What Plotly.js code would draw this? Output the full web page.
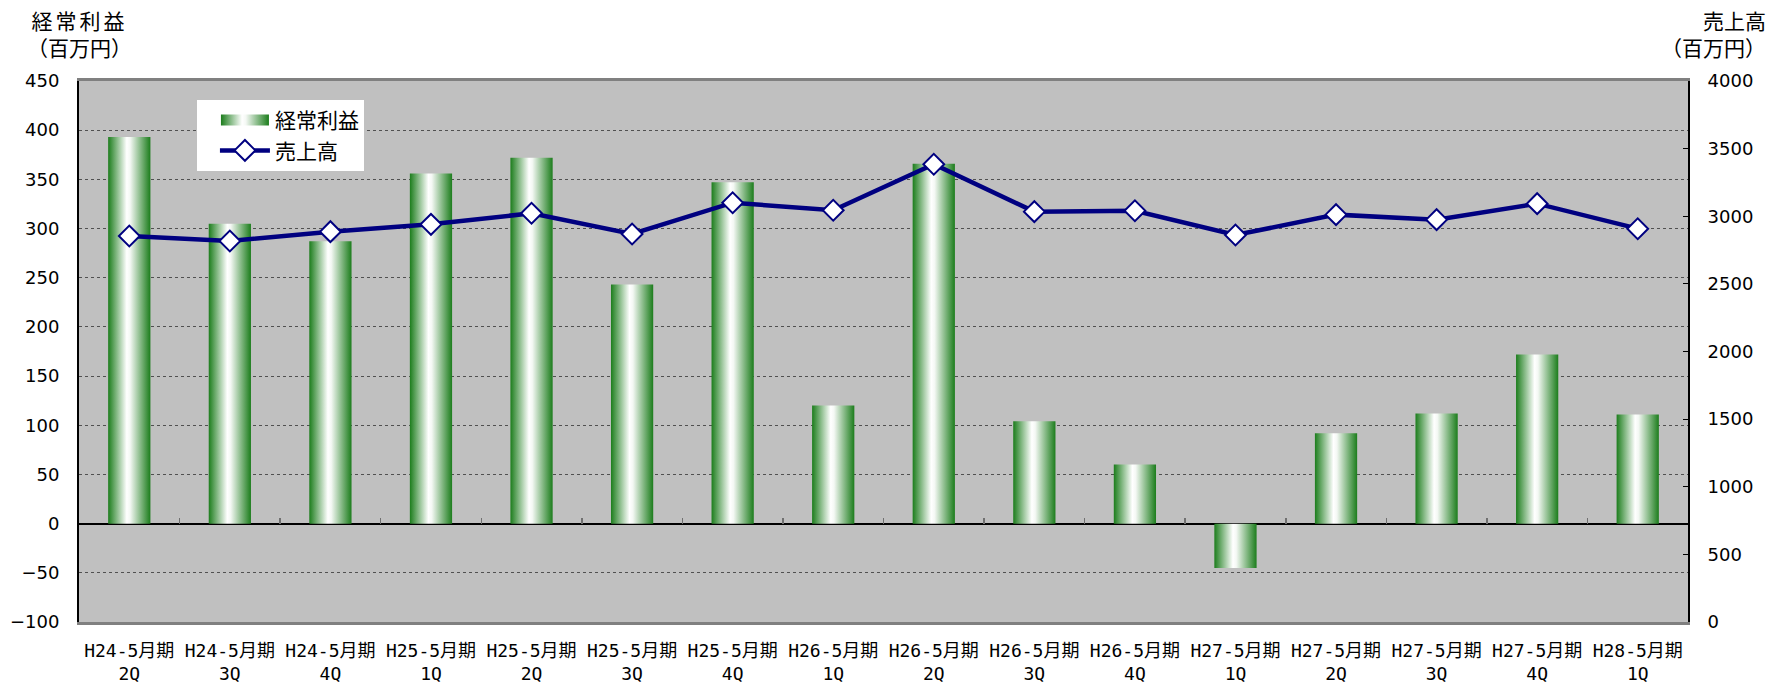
<!DOCTYPE html>
<html>
<head>
<meta charset="utf-8">
<script src="https://cdn.plot.ly/plotly-3.0.1.min.js"></script>
<style>
html,body{margin:0;padding:0;background:#fff;}
#chart{width:1783px;height:687px;}
</style>
</head>
<body>
<div id="chart"></div>
<script>
// ---- data ----
const periods = ["H24-5月期","H24-5月期","H24-5月期","H25-5月期","H25-5月期","H25-5月期","H25-5月期","H26-5月期","H26-5月期","H26-5月期","H26-5月期","H27-5月期","H27-5月期","H27-5月期","H27-5月期","H28-5月期"];
const quarters = ["2Q","3Q","4Q","1Q","2Q","3Q","4Q","1Q","2Q","3Q","4Q","1Q","2Q","3Q","4Q","1Q"];
const ordinaryProfit = [393,305,287,356,372,243,347,120,366,104,60,-45,92,112,172,111];
const sales = [2854,2817,2886,2940,3022,2869,3100,3044,3384,3034,3041,2861,3012,2975,3093,2908];
const profitName = "経常利益";
const salesName = "売上高";
const leftTitle = "経常利益<br>（百万円）";
const rightTitle = "売上高<br>（百万円）";

const categories = periods.map((p,i)=>p+" "+quarters[i]);
const idx = categories.map((_,i)=>i);
const boundaries = idx.slice(1).map(i=>i-0.5);

const JP = '"Noto Sans CJK JP", "Noto Sans", sans-serif';
const XLAB = '"DejaVu Sans Mono", "Noto Sans CJK JP", monospace';
const NUM = '"DejaVu Sans", "Liberation Sans", sans-serif';
const GREEN = '#1c7d1c';

const traces = [
  {
    type:'bar', name: profitName, x: categories, y: ordinaryProfit,
    width: 0.42, marker:{color: GREEN, line:{width:0}},
    xaxis:'x', yaxis:'y', legendgroup:'a', hoverinfo:'x+y'
  },
  {
    type:'scatter', mode:'lines+markers', name: salesName, x: categories, y: sales,
    xaxis:'x', yaxis:'y2', legendgroup:'b',
    line:{color:'#000080', width:4.5},
    marker:{symbol:'diamond', size:16, color:'#ffffff', line:{color:'#000080', width:2}}
  },
  // carriers for the helper axes (draw nothing)
  { type:'scatter', mode:'none', x: idx, y: ordinaryProfit, xaxis:'x2', yaxis:'y', showlegend:false, hoverinfo:'skip' },
  { type:'scatter', mode:'none', x: idx, y: ordinaryProfit, xaxis:'x3', yaxis:'y', showlegend:false, hoverinfo:'skip' }
];

const layout = {
  width:1783, height:687,
  paper_bgcolor:'#ffffff', plot_bgcolor:'#c0c0c0',
  margin:{l:79, r:95, t:81, b:65},
  showlegend:true,
  legend:{
    x:0.0733, y:0.965, xanchor:'left', yanchor:'top',
    bgcolor:'#ffffff', borderwidth:0,
    font:{family:JP, size:21, color:'#000'},
    itemwidth:50, indentation:18, traceorder:'grouped', tracegroupgap:0
  },
  xaxis:{
    type:'category', tickvals: categories, ticktext: periods,
    range:[-0.5, categories.length-0.5],
    showline:true, linecolor:'#808080', linewidth:3, mirror:true,
    ticks:'', showgrid:false, zeroline:false,
    tickfont:{family:XLAB, size:18, color:'#000'},
    ticklabelstandoff: 10, tickangle:0
  },
  xaxis2:{
    type:'linear', overlaying:'x', anchor:'y', side:'bottom',
    range:[-0.5, categories.length-0.5],
    tickvals: idx, ticktext: quarters, ticks:'',
    showline:false, showgrid:false, zeroline:false,
    tickfont:{family:XLAB, size:18, color:'#000'},
    ticklabelstandoff: 39, tickangle:0
  },
  xaxis3:{
    type:'linear', overlaying:'x', anchor:'free', position: 100/550, side:'bottom',
    range:[-0.5, categories.length-0.5],
    tickvals: boundaries, ticks:'inside', ticklen:6, tickwidth:1.5, tickcolor:'#707070',
    showticklabels:false, showline:false, showgrid:false, zeroline:false
  },
  yaxis:{
    range:[-100,450], dtick:50, tick0:0,
    showline:true, linecolor:'#000', linewidth:2,
    showgrid:true, gridcolor:'#505050', gridwidth:1, griddash:'dot',
    zeroline:true, zerolinecolor:'#000', zerolinewidth:2,
    ticks:'', ticklabelstandoff:14,
    tickfont:{family:NUM, size:18, color:'#000'}
  },
  yaxis2:{
    range:[0,4000], dtick:500, overlaying:'y', side:'right', anchor:'x',
    showline:true, linecolor:'#000', linewidth:2,
    showgrid:false, zeroline:false,
    ticks:'inside', ticklen:5, tickcolor:'#000', tickwidth:1,
    ticklabelstandoff:14,
    tickfont:{family:NUM, size:18, color:'#000'}
  },
  annotations:[
    {text:'<span style="letter-spacing:3px">'+leftTitle.split('<br>')[0]+'</span><br>'+leftTitle.split('<br>')[1],
     xref:'paper', yref:'paper', x:0, y:1, xshift:0, yshift:78,
     xanchor:'center', yanchor:'top', showarrow:false, align:'center',
     font:{family:JP, size:21, color:'#000'}},
    {text:rightTitle, xref:'paper', yref:'paper', x:1, y:1, xshift:80, yshift:78,
     xanchor:'right', yanchor:'top', showarrow:false, align:'right',
     font:{family:JP, size:21, color:'#000'}}
  ]
};

Plotly.newPlot('chart', traces, layout, {displayModeBar:false, staticPlot:true}).then(function(gd){
  // horizontal green-white-green gradient for bars and legend symbol
  const svg = gd.querySelector('svg.main-svg');
  const NS = 'http://www.w3.org/2000/svg';
  let defs = svg.querySelector('defs');
  if(!defs){ defs = document.createElementNS(NS,'defs'); svg.insertBefore(defs, svg.firstChild); }
  const lg = document.createElementNS(NS,'linearGradient');
  lg.setAttribute('id','barGrad'); lg.setAttribute('x1','0'); lg.setAttribute('y1','0');
  lg.setAttribute('x2','1'); lg.setAttribute('y2','0');
  [['0', GREEN],['0.44','#ffffff'],['0.52','#f4f8f4'],['1', GREEN]].forEach(function(s){
    const st = document.createElementNS(NS,'stop');
    st.setAttribute('offset', s[0]); st.setAttribute('stop-color', s[1]);
    lg.appendChild(st);
  });
  defs.appendChild(lg);
  gd.querySelectorAll('.barlayer .trace.bars .point path').forEach(function(p){
    p.style.fill = 'url(#barGrad)';
  });
  const legTraces = gd.querySelectorAll('.legend .traces');
  if(legTraces.length){
    legTraces[0].querySelectorAll('.legendpoints path').forEach(function(p){
      p.setAttribute('d','M24,5.5H-24V-5.5H24Z');
      p.style.fill = 'url(#barGrad)';
      p.style.stroke = 'none';
    });
  }
});
</script>
</body>
</html>
